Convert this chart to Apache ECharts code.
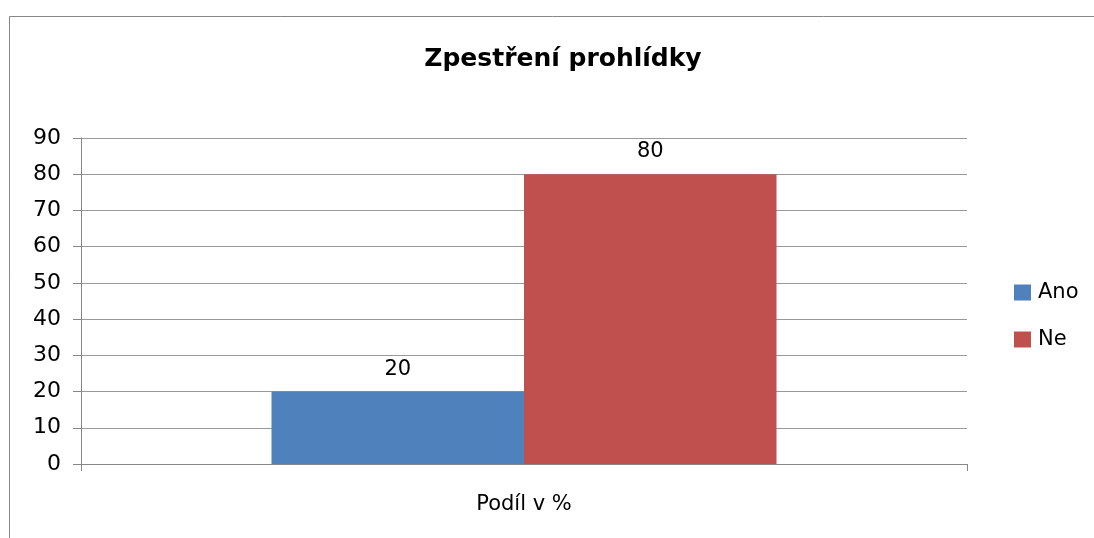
<!DOCTYPE html>
<html>
<head>
<meta charset="utf-8">
<script src="https://cdn.jsdelivr.net/npm/echarts@6/dist/echarts.min.js"></script>
<style>
  html, body { margin: 0; padding: 0; background: #fff; }
  #chart { width: 1094px; height: 538px; }
</style>
</head>
<body>
<div id="chart"></div>
<script>
const categories = ['Podíl v %']
const seriesNames = ['Ano', 'Ne']
const seriesValues = [[20], [80]]
const colors = ['#4F81BD', '#C0504D']

const font = '"DejaVu Sans", sans-serif'
const chart = echarts.init(document.getElementById('chart'))

chart.setOption({
  animation: false,
  textStyle: { fontFamily: font },
  title: {
    text: 'Zpestření prohlídky',
    left: 558,
    textAlign: 'center',
    top: 42,
    textStyle: { fontSize: 25, fontWeight: 'bold', color: '#000', fontFamily: font }
  },
  legend: {
    orient: 'vertical',
    left: 1014,
    top: 282,
    padding: 0,
    itemWidth: 17,
    itemHeight: 16,
    itemGap: 26,
    icon: 'rect',
    textStyle: { fontSize: 21, color: '#000', fontFamily: font, padding: [0, 0, 0, 2] },
    data: seriesNames
  },
  graphic: [{
    type: 'rect',
    shape: { x: 9.5, y: 16.5, width: 1200, height: 600 },
    style: { fill: 'none', stroke: '#878787', lineWidth: 1 },
    silent: true
  }],
  grid: { left: 81, right: 127, top: 138, bottom: 74 },
  xAxis: {
    type: 'category',
    data: categories,
    axisLine: { lineStyle: { color: '#878787' } },
    axisTick: { show: true, length: 7, lineStyle: { color: '#878787' } },
    axisLabel: { fontSize: 21, color: '#000', margin: 30, fontFamily: font }
  },
  yAxis: {
    type: 'value',
    min: 0,
    max: 90,
    interval: 10,
    axisLine: { show: true, lineStyle: { color: '#878787' } },
    axisTick: { show: true, length: 8, lineStyle: { color: '#878787' } },
    axisLabel: { fontSize: 22, color: '#000', margin: 20, fontFamily: font },
    splitLine: { lineStyle: { color: '#9a9a9a' } }
  },
  series: seriesNames.map((name, i) => ({
    name: name,
    type: 'bar',
    data: seriesValues[i],
    barGap: 0,
    barCategoryGap: '43%',
    itemStyle: { color: colors[i] },
    label: { show: true, position: 'top', distance: 12, fontSize: 21, color: '#000', fontFamily: font }
  }))
})
</script>
</body>
</html>
